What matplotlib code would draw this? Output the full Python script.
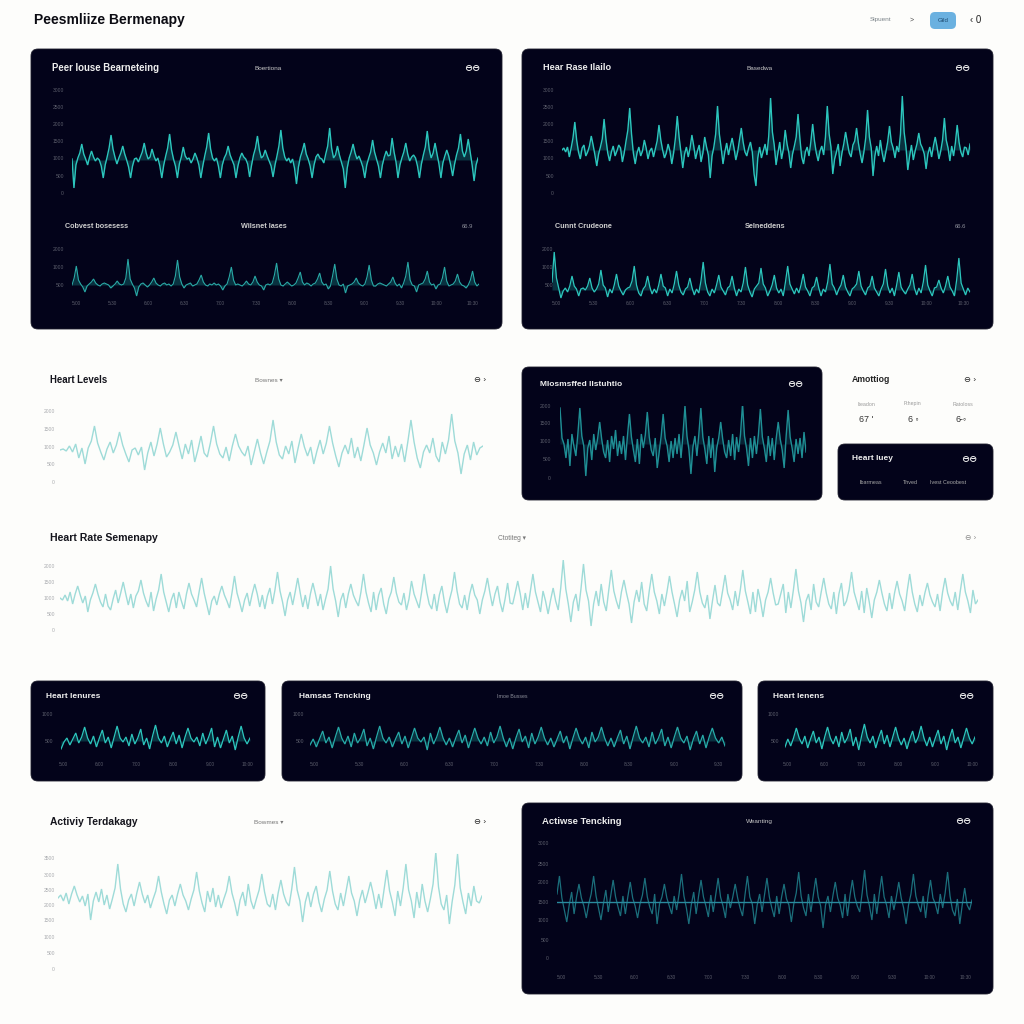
import matplotlib
matplotlib.use("Agg")
import matplotlib.pyplot as plt
from matplotlib.patches import FancyBboxPatch
import numpy as np

W, H = 1024, 1024
PAPER = "#fdfdfb"
NAVY = "#03031a"

# heart traces (offset from each trace's resting level)
overview_rate = [1,-28,-5,2,7,16,6,1,-5,3,9,3,-1,2,0,-6,-18,-5,3,12,25,11,3,-4,2,7,14,6,0,-7,-18,-6,1,2,-2,3,8,17,7,1,3,11,4,
    -1,2,-6,-18,-5,4,12,26,10,1,-6,-18,-4,3,13,4,1,2,-3,1,7,2,-5,-18,-6,4,13,27,11,2,-1,2,-6,-18,-5,2,6,14,5,0,-5,-18,-6,2,7,3,
    1,-4,-17,-5,5,12,24,10,2,4,10,4,-1,-6,-17,-5,4,14,30,12,3,-1,2,-3,1,-8,-24,-7,3,9,17,6,1,-6,-18,-5,3,6,2,1,-3,6,14,32,12,2,
    5,14,5,-2,-9,-28,-8,2,8,16,7,1,4,-1,-7,-18,-5,2,8,20,8,1,-6,-18,-5,3,9,4,5,22,8,-2,-18,-5,2,8,17,6,-1,3,5,2,-6,-18,-4,5,13,
    29,11,2,7,17,6,-4,-18,-3,4,10,4,-5,-16,-4,5,12,26,9,3,9,21,8,-5,-21,-5,2]
overview_load = [0,7,19,5,1,-2,-7,-1,1,3,6,2,0,-1,1,2,1,0,-3,-1,1,
    4,1,0,1,7,26,6,1,-3,-11,-2,1,2,0,-2,0,3,7,2,0,-1,1,2,0,1,-1,1,9,25,8,1,-3,0,1,2,-1,0,1,5,10,3,0,-1,1,0,2,0,1,-1,-5,-1,1,8,18,5,0,1,
    0,-1,1,4,1,0,3,9,3,0,-1,-5,0,1,0,2,10,22,6,0,-1,1,3,1,-1,0,2,7,13,3,0,2,1,-1,1,2,6,12,3,0,1,-4,-1,9,21,6,0,-1,1,-8,-1,0,1,3,7,2,0,
    -1,1,8,20,5,-1,-1,1,2,1,0,-1,1,3,8,2,-1,1,-3,2,9,23,5,0,-1,-7,0,1,2,6,14,3,0,1,-4,0,1,7,18,4,-1,0,1,4,11,3,0,-1,-3,0,5,14,3,-1,1]
detail_rate = [0,2,-2,3,-7,2,12,28,10,-2,-9,2,5,-6,-2,4,14,5,-5,-16,-4,3,11,31,11,-3,-11,-2,4,-6,-1,5,2,-12,-3,9,20,42,16,-3,-14,-3,3,-6,
    -1,10,2,-9,-1,2,-7,1,9,25,10,0,-8,-3,6,-1,-14,-3,12,34,13,-2,-18,-4,3,-7,2,15,4,-9,-1,5,-12,-3,13,3,-5,-28,-6,3,16,44,16,2,-14,-2,
    7,-5,4,12,2,-10,-2,10,22,8,-2,-6,2,8,-2,-24,-36,-8,3,-8,-1,6,-5,14,52,18,5,-15,-3,8,-9,1,20,6,-3,-18,-4,4,13,36,12,-7,-14,-2,3,-6,
    8,26,9,-3,-11,-1,4,-5,13,44,16,3,-24,-9,-2,6,-16,-3,6,18,7,-3,-7,5,9,22,7,-4,-13,-2,12,40,13,2,-26,-6,4,-6,10,-3,-12,-2,8,24,8,2,
    -8,4,-2,16,54,18,3,-20,-6,5,-10,-1,6,17,6,2,-4,-19,-4,3,-7,4,13,3,-9,-1,10,32,10,2,-11,4,-6,7,25,8,-2,-7,3,2,-5,6]
detail_load = [8,38,12,2,-8,-1,2,-2,4,14,4,1,-6,1,2,0,4,12,2,-2,1,6,20,5,2,-7,1,-3,5,16,4,-1,-5,0,2,3,9,24,5,-3,-6,1,4,14,3,-4,1,-3,5,16,4,
    2,-6,1,-3,6,19,5,-2,-5,1,3,12,2,-5,1,-3,9,28,7,-2,-6,1,-3,5,15,3,-1,-5,2,4,14,2,-6,1,-2,7,23,5,-2,-7,1,4,7,22,6,2,-6,-1,5,15,2,-3,
    1,-6,8,24,6,1,-4,2,-3,5,16,3,-1,-6,2,4,13,2,-6,1,-2,8,26,6,2,-5,1,5,15,3,-2,-6,1,3,6,19,4,-1,-5,2,4,14,2,-2,-6,1,6,21,4,-3,2,-6,5,
    18,3,-1,-4,1,5,16,2,-5,2,-3,8,25,5,-1,-6,2,3,10,2,-3,4,14,3,-1,-6,10,32,7,1,-5,2,-2]
levels_trace = [0,1,-1,4,-2,6,-8,2,-14,2,9,24,7,-2,-10,1,8,-3,5,18,5,-4,-12,0,2,-5,3,-20,-3,8,-6,6,22,6,-7,-2,5,18,4,-9,6,-4,10,-12,0,14,-3,
    -7,7,24,6,-4,-8,3,-11,4,16,4,-2,-6,4,-15,-2,11,-3,-14,-2,9,30,8,-5,-9,4,-4,9,-13,2,16,3,-6,3,-14,-1,10,-4,7,24,7,-6,-17,-3,5,-4,12,
    -8,3,-11,5,22,5,-3,-15,-2,7,-3,14,-9,4,-7,6,-12,8,30,8,-8,-18,-2,5,-3,12,-6,-12,8,-4,10,36,9,-3,-24,-4,5,-10,8,-5,2,4]
modified_trace = [36,6,0,-14,5,-22,10,-2,-12,10,36,8,-2,-32,-4,4,-16,10,-6,6,22,5,-8,-14,4,-18,8,-5,14,-12,3,-10,8,-16,8,30,7,-6,-18,5,-20,10,
    -4,9,32,7,-6,-12,6,-24,-8,8,30,6,-2,-18,3,-14,6,-10,10,-14,10,38,8,-6,-30,-3,8,-12,10,36,7,-5,-20,8,-14,6,-28,-4,6,22,5,-8,-14,4,-12,10,
    -16,7,-8,10,40,8,-4,-22,6,-14,8,-10,9,35,7,-4,-18,8,-12,6,-16,6,22,5,-6,-24,8,34,7,-4,-18,5,-10,6,-14,12,-8]
summary_trace = [0,-2,3,-3,6,-6,4,12,3,-5,2,-14,-2,5,14,4,-4,-9,4,-8,-12,-1,8,-5,5,16,4,-7,4,-10,2,7,18,5,-3,-9,6,-13,-1,8,24,6,-4,-14,-2,5,-10,6,-3,-11,
    4,15,4,-2,-9,6,20,5,-6,-17,-3,2,-7,4,12,3,-3,-10,5,22,5,-4,-14,-2,5,-8,4,14,4,-9,3,-11,2,10,-6,8,26,7,-4,-18,-2,6,-7,6,20,5,-9,3,-11,4,15,4,-8,4,-12,
    -1,9,32,9,-3,-19,-2,5,-10,4,14,3,-3,-8,6,24,6,-5,-14,6,-12,3,10,-6,-16,-1,6,21,5,-4,-7,5,-12,-1,17,4,-3,-10,6,24,6,-6,-11,4,-13,3,12,-4,-15,-2,8,26,7,
    -6,-10,3,-12,4,14,3,-2,-16,-2,7,20,5,-8,4,12,-4,-14,-1,15,-5,-6,5,17,4,-12,5,-10,7,24,6,-4,-14,7,-3,-16,-2,10,-3,-12,10,38,9,-6,-24,-4,4,-13,9,34,8,-3,
    -28,-6,7,-8,14,-4,-13,8,28,7,-3,-11,6,18,5,-6,-25,-4,8,-4,16,-6,-13,7,24,6,-3,-16,4,-8,6,22,6,-6,-19,-2,8,-3,17,-14,-4,8,26,6,-5,-10,3,-21,-3,13,-5,
    -8,7,23,5,-2,-12,7,-8,8,28,7,-4,-16,6,-14,9,-3,-19,-2,6,20,5,-7,-6,4,14,-15,6,-10,8,29,7,-5,-24,-3,4,-12,14,-4,-9,6,20,5,-6,-11,6,-16,4,15,-8,-3,8,26,
    6,-3,-12,7,-15,10,-4,-20,-2,6,18,5,-6,-13,5,-11,5,17,4,-3,-13,7,24,6,-6,-14,3,-8,5,15,3,-4,-9,4,-13,6,20,5,-3,-8,6,-12,7,24,6,-3,-15,8,-6,-2]
cards_left = [-8,-1,3,-4,2,8,-2,4,14,3,-3,5,-6,3,11,-2,4,-7,4,15,3,-1,4,-5,7,-3,3,12,-4,3,-8,5,16,3,-2,5,-6,2,9,-3,6,-7,4,13,3,-1,4,-5,8,-3,4,13,-6,4,-7,2,
    11,-2,5,-9,4,15,3,-3,3]
cards_middle = [-4,2,-6,2,10,-2,4,-7,4,14,3,-3,5,-6,8,-2,3,12,-5,3,-8,4,15,3,-2,4,-6,2,9,-3,5,-7,3,13,3,-1,4,-9,8,-3,4,14,3,-4,3,-6,3,11,-2,6,-7,3,13,3,-3,4,
    -5,9,-2,4,15,3,-6,3,-8,3,12,-1,5,-7,8,-3,4,14,3,-4,3,-6,2,10,-2,5,-8,3,13,3,-3,4,-7,9,-1,4,14,3,-5,3,-6,3,11,-3,5,-8,4,15,3,-2,4,-6,9,-3,3,12,-5,4,-7,4,14,3,
    -2,5,-9,2,10,-3,6,-7,4,13,3,-2,4,-5]
cards_right = [-6,2,-5,3,13,3,-3,5,-7,2,10,-2,4,-8,4,14,3,-3,5,-6,9,-2,3,12,-5,4,-9,5,17,4,-2,5,-7,3,11,-3,6,-6,4,14,3,-4,3,-8,2,10,-2,4,15,3,-5,4,-6,3,11,-3,5,
    -9,3,12,-2,4,-7,3,13,3,-3,4]
activity_trace = [0,3,-3,5,-6,4,12,3,-4,2,-8,4,-22,-3,6,-4,9,-7,3,-11,-1,10,34,9,-6,-14,-2,4,-8,5,16,4,-5,3,-10,-1,7,22,6,-6,-16,-2,3,-8,4,14,3,-3,-12,-1,8,26,7,
    -5,-14,7,-4,10,-9,3,-10,-1,7,22,5,-5,-18,-2,6,-8,14,-3,-11,-1,8,24,6,-6,-9,4,-12,5,18,4,-4,-8,9,31,8,-3,-24,-4,6,-9,4,12,-4,-14,-1,8,27,7,-6,-12,5,-8,7,22,5,-3,-18,-2,
    8,-5,5,16,4,-11,4,-10,9,28,7,-4,-18,7,-8,10,34,8,-3,-20,6,-10,14,-3,-14,-1,14,46,11,-6,-12,3,-26,-4,13,44,10,-4,-16,5,-8,12,-3,-5,2]
tracking_trace = [8,26,4,-8,-20,-3,10,-12,5,18,4,-4,-16,-2,8,26,6,-6,-18,-2,12,-10,6,22,5,-5,-14,6,-12,5,20,4,-4,-16,-2,7,24,5,-5,-12,8,-22,-2,5,18,4,-4,-12,6,-8,8,28,6,
    -6,-22,-3,10,-12,6,22,5,-4,-15,7,-10,7,24,5,-4,-16,8,-6,5,18,4,-6,-14,7,26,5,-2,-22,-3,8,-10,7,24,5,-6,-15,6,-12,5,18,3,-3,-20,-2,9,30,6,-6,-14,8,-10,7,24,5,-4,-26,-3,6,
    -10,6,20,4,-3,-16,8,-14,6,22,5,-4,-10,9,32,7,-4,-18,8,-12,8,26,5,-3,-16,6,-8,5,20,4,-6,-22,-3,8,28,6,-3,-10,6,-16,6,22,4,-2,-12,8,-6,9,30,6,-8,-14,3,-22,-3,14,-3,-8,2]

# tick labels as far as they can be read
ticks_seven = ["3000", "2500", "2000", "1500", "1000", "500", "0"]
ticks_three = ["2000", "1000", "500"]
ticks_five = ["2000", "1500", "1000", "500", "0"]
ticks_two = ["1000", "500"]
ticks_eight = ["3500", "3000", "2500", "2000", "1500", "1000", "500", "0"]
time_twelve = ["5:00", "5:30", "6:00", "6:30", "7:00", "7:30", "8:00", "8:30", "9:00", "9:30", "10:00", "10:30"]
time_six = ["5:00", "6:00", "7:00", "8:00", "9:00", "10:00"]
time_ten = ["5:00", "5:30", "6:00", "6:30", "7:00", "7:30", "8:00", "8:30", "9:00", "9:30"]


def panel(bg, x0, y0, x1, y1):
    bg.add_patch(FancyBboxPatch((x0 + 6, y0 + 6), x1 - x0 - 12, y1 - y0 - 12, boxstyle="round,pad=6,rounding_size=7",
                                fc=NAVY, ec="#1b1b2a", lw=0.6))


def trace(values, box, base, ytick_px, ylabels, color, label_col, label_x, lw=1.1, xlabels=None, xlabel_y=None, fill=None):
    x0, y0, x1, y1 = box
    ax = fig.add_axes([x0 / W, 1 - y1 / H, (x1 - x0) / W, (y1 - y0) / H])
    ax.patch.set_alpha(0)
    for s in ax.spines.values():
        s.set_visible(False)
    xs = np.arange(len(values))
    if fill:
        ax.fill_between(xs, values, 0, color=fill, alpha=0.35, lw=0)
    ax.plot(xs, values, color=color, lw=lw, solid_joinstyle="miter")
    ax.set_xlim(0, len(values) - 1)
    ax.set_ylim(base - y1, base - y0)
    ax.set_yticks([base - p for p in ytick_px], ylabels)
    ax.tick_params(axis="y", length=0, labelsize=3.6, labelcolor=label_col, pad=(x0 - label_x) * 0.72)
    if xlabels:
        ax.set_xticks(np.linspace(0.01, 0.985, len(xlabels)) * (len(values) - 1), xlabels)
        ax.tick_params(axis="x", length=0, labelsize=3.4, labelcolor=label_col, pad=(xlabel_y - y1 - 2) * 0.72)
    else:
        ax.set_xticks([])
    return ax


def put(bg, x, y, s, size=7, color="#111", weight="normal", ha="left"):
    bg.text(x, y, s, fontsize=size, color=color, fontweight=weight, ha=ha, va="center")


plt.rcParams["font.family"] = ["Liberation Sans", "DejaVu Sans"]
fig = plt.figure(figsize=(W / 100, H / 100), dpi=100, facecolor=PAPER)
bg = fig.add_axes([0, 0, 1, 1])
bg.set_xlim(0, W)
bg.set_ylim(H, 0)
bg.axis("off")

for box in [(31, 49, 502, 329), (522, 49, 993, 329), (522, 367, 822, 500), (838, 444, 993, 500),
            (31, 681, 265, 781), (282, 681, 742, 781), (758, 681, 993, 781), (522, 803, 993, 994)]:
    panel(bg, *box)

# header row
put(bg, 34, 20, "Peesmliize Bermenapy", 10, "#0b0b12", "bold")
put(bg, 881, 20, "Sipuent", 4.6, "#7a8288", ha="center")
put(bg, 912, 20, ">", 5, "#444", ha="center")
bg.add_patch(FancyBboxPatch((935, 17), 16, 7, boxstyle="round,pad=5,rounding_size=5", fc="#6bb1e0", ec="none"))
put(bg, 943, 20, "Gild", 4.4, "#1d4a70", ha="center")
put(bg, 976, 20, "‹ 0", 7, "#222", ha="center")

DIM = "#8d8f9a"
WHITE = "#eeeeee"
put(bg, 52, 68, "Peer Iouse Bearneteing", 6.9, WHITE, "bold")
put(bg, 268, 68, "Boertiona", 4.6, "#c8c8c8", ha="center")
put(bg, 472, 68, "⊖⊖", 7, WHITE, "bold", "center")
put(bg, 65, 226, "Cobvest bosesess", 5.2, "#cfcfcf", "bold")
put(bg, 264, 226, "Wilsnet lases", 5.2, "#cfcfcf", "bold", "center")
put(bg, 467, 226, "66.9", 4.2, DIM, ha="center")
put(bg, 543, 68, "Hear Rase Ilailo", 6.6, WHITE, "bold")
put(bg, 760, 68, "Basedwa", 4.6, "#c8c8c8", ha="center")
put(bg, 962, 68, "⊖⊖", 7, WHITE, "bold", "center")
put(bg, 555, 226, "Cunnt Crudeone", 5.2, "#cfcfcf", "bold")
put(bg, 765, 226, "Selneddens", 5.2, "#cfcfcf", "bold", "center")
put(bg, 960, 226, "66.6", 4.2, DIM, ha="center")

put(bg, 50, 380, "Heart Levels", 6.9, "#14141c", "bold")
put(bg, 269, 380, "Bownes ▾", 4.6, "#777", ha="center")
put(bg, 480, 380, "⊖ ›", 6, "#222", ha="center")
put(bg, 540, 384, "Mlosmsffed Ilstuhtio", 6.0, WHITE, "bold")
put(bg, 795, 384, "⊖⊖", 7, WHITE, "bold", "center")
put(bg, 852, 380, "Amottiog", 6.2, "#222", "bold")
put(bg, 970, 380, "⊖ ›", 6, "#222", ha="center")
for x, s in zip([866, 913, 963], ["Iteadon", "Fthepin", "Ratoloss"]):
    put(bg, x, 404, s, 3.8, "#9a9a9a", ha="center")
for x, s in zip([866, 913, 961], ["67 '", "6 ◦", "6-◦"]):
    put(bg, x, 419, s, 6.4, "#333", ha="center")
put(bg, 852, 459, "Heart Iuey", 6, WHITE, "bold")
put(bg, 969, 459, "⊖⊖", 7, WHITE, "bold", "center")
for x, s in zip([871, 910, 948], ["Ibarmeas", "Thved", "Ivest Ceoobest"]):
    put(bg, x, 483, s, 3.9, "#a8a8a8", ha="center")

put(bg, 50, 538, "Heart Rate Semenapy", 7.6, "#14141c", "bold")
put(bg, 512, 538, "Ctotiteg ▾", 4.8, "#777", ha="center")
put(bg, 971, 538, "⊖ ›", 5.6, "#888", ha="center")

put(bg, 46, 696, "Heart Ienures", 6, WHITE, "bold")
put(bg, 240, 696, "⊖⊖", 7, WHITE, "bold", "center")
put(bg, 299, 696, "Hamsas Tencking", 6, WHITE, "bold")
put(bg, 512, 696, "Imoe Busses", 3.8, DIM, ha="center")
put(bg, 716, 696, "⊖⊖", 7, WHITE, "bold", "center")
put(bg, 773, 696, "Heart Ienens", 6, WHITE, "bold")
put(bg, 966, 696, "⊖⊖", 7, WHITE, "bold", "center")

put(bg, 50, 822, "Activiy Terdakagy", 7.4, "#14141c", "bold")
put(bg, 269, 822, "Bowmes ▾", 4.6, "#777", ha="center")
put(bg, 480, 822, "⊖ ›", 6, "#222", ha="center")
put(bg, 542, 821, "Actiwse Tencking", 6.8, WHITE, "bold")
put(bg, 759, 821, "Weanting", 4.6, "#c8c8c8", ha="center")
put(bg, 963, 821, "⊖⊖", 7, WHITE, "bold", "center")

TEAL = "#2cc6bd"
DEEP = "#1f8f95"
PALE = "#9edbd8"
GREY_D = "#5c5e6c"
GREY_L = "#a9abaf"

trace(overview_rate, (72, 90, 478, 193), 160, [90, 107, 124, 141, 158, 176, 193], ticks_seven, TEAL, GREY_D, 64, lw=1.0, fill="#168a88")
trace(overview_load, (72, 249, 479, 299), 285, [249, 267, 285], ticks_three, "#29a9a6", GREY_D, 64, lw=0.8,
      xlabels=time_twelve, xlabel_y=303, fill="#168a88")
trace(detail_rate, (562, 90, 970, 193), 150, [90, 107, 124, 141, 158, 176, 193], ticks_seven, TEAL, GREY_D, 554, lw=1.0, fill="#168a88")
trace(detail_load, (552, 249, 970, 299), 290, [249, 267, 285], ticks_three, TEAL, GREY_D, 553, lw=0.9,
      xlabels=time_twelve, xlabel_y=303, fill="#168a88")
trace(levels_trace, (60, 411, 483, 484), 450, [411, 429, 447, 464, 482], ticks_five, PALE, GREY_L, 55, lw=1.0)
trace(modified_trace, (560, 406, 806, 480), 444, [406, 423, 441, 459, 478], ticks_five, DEEP, GREY_D, 551, lw=1.0, fill="#125e66")
trace(summary_trace, (60, 560, 978, 632), 598, [566, 582, 598, 614, 630], ticks_five, PALE, GREY_L, 55, lw=1.0)
trace(cards_left, (61, 714, 250, 756), 741, [714, 741], ticks_two, TEAL, GREY_D, 53, lw=0.9, xlabels=time_six, xlabel_y=764, fill="#168a88")
trace(cards_middle, (310, 714, 725, 756), 741, [714, 741], ticks_two, "#27aaa8", GREY_D, 304, lw=0.9, xlabels=time_ten, xlabel_y=764, fill="#168a88")
trace(cards_right, (785, 714, 975, 756), 741, [714, 741], ticks_two, TEAL, GREY_D, 779, lw=0.9, xlabels=time_six, xlabel_y=764, fill="#168a88")
trace(activity_trace, (58, 853, 482, 969), 898, [858, 875, 890, 905, 920, 937, 953, 969], ticks_eight, PALE, GREY_L, 55, lw=1.0)
ax = trace(tracking_trace, (557, 843, 972, 970), 902, [843, 864, 882, 902, 920, 940, 958], ticks_seven, "#1b6f7c", GREY_D, 549, lw=0.9,
           xlabels=time_twelve, xlabel_y=977)
ax.axhline(0, color="#2a8a9e", lw=1.0)

fig.savefig("out.png", dpi=100, facecolor=PAPER)
